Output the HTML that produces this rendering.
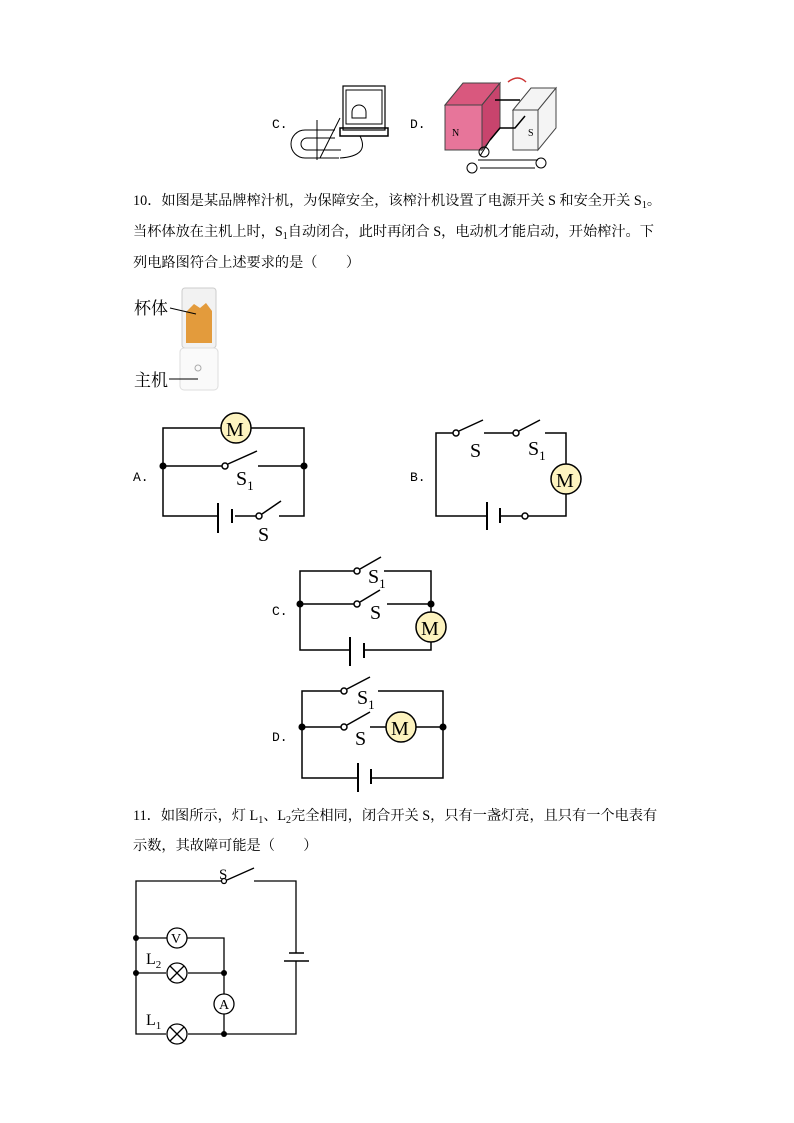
<!DOCTYPE html>
<html><head><meta charset="utf-8"><style>
body{margin:0;background:#fff}
svg{display:block}
.t{font-family:"Liberation Serif","Noto Serif CJK SC",serif;font-size:14.2px;fill:#000}
.o{font-family:"Liberation Mono",monospace;font-size:13px;fill:#000}
</style></head><body>
<svg width="794" height="1123" viewBox="0 0 794 1123" xmlns="http://www.w3.org/2000/svg">
<g stroke="#000" fill="none" stroke-width="1.5">
<text class="o" x="272" y="128" stroke="none" fill="#000">C.</text>
<rect x="343" y="86" width="42" height="44" stroke-width="1.2"/>
<rect x="346" y="90" width="36" height="34" stroke-width="1"/>
<rect x="340" y="128" width="48" height="8"/>
<path d="M352 112a7 7 0 0 1 14 0v6h-14z" stroke-width="1"/>
<path d="M335 130h-30a14 14 0 0 0 0 28h34M335 138h-28a6 6 0 0 0 0 12h34" stroke-width="1"/>
<path d="M317 120v40M340 118l-20 40M360 136q10 20 -20 22" stroke-width="1"/>
<text class="o" x="410" y="128" stroke="none" fill="#000">D.</text>
<path d="M445 105l18-22h37l-18 22z" fill="#d9587e" stroke="#444" stroke-width="1"/>
<rect x="445" y="105" width="37" height="45" fill="#e7759a" stroke="#444" stroke-width="1"/>
<path d="M482 105l18-22v45l-18 22z" fill="#c8446d" stroke="#444" stroke-width="1"/>
<text x="452" y="136" font-size="10" stroke="none" fill="#000" font-family="Liberation Serif">N</text>
<path d="M513 110l18-22h25l-18 22z M513 110h25v40h-25z M538 110l18-22v40l-18 22z" fill="#f4f4f4" stroke="#444" stroke-width="1"/>
<text x="528" y="136" font-size="10" stroke="none" fill="#000" font-family="Liberation Serif">S</text>
<path d="M495 100h25M490 140l10-12h15l10-12" stroke-width="1.5"/>
<path d="M490 140l-10 16M478 160h60M480 168h55" stroke-width="1"/>
<circle cx="484" cy="152" r="5" stroke-width="1"/><circle cx="472" cy="168" r="5" stroke-width="1"/>
<circle cx="541" cy="163" r="5" stroke-width="1"/>
<path d="M508 82q10-8 18 0" stroke="#c33" stroke-width="1.5"/>
</g>
<text class="t" x="133" y="205">10．如图是某品牌榨汁机，为保障安全，该榨汁机设置了电源开关 S 和安全开关 S<tspan font-size="10" dy="3">1</tspan><tspan dy="-3">。</tspan></text>
<text class="t" x="133" y="236">当杯体放在主机上时，S<tspan font-size="10" dy="3">1</tspan><tspan dy="-3">自动闭合，此时再闭合 S，电动机才能启动，开始榨汁。下</tspan></text>
<text class="t" x="133" y="267">列电路图符合上述要求的是（　　）</text>
<rect x="182" y="288" width="34" height="60" rx="3" fill="#f2f2f2" stroke="#ccc"/>
<path d="M186 312l8-8 6 4 6-5 6 8v32h-26z" fill="#e39b3c"/>
<rect x="180" y="348" width="38" height="42" rx="4" fill="#fafafa" stroke="#ddd"/>
<circle cx="198" cy="368" r="3" fill="none" stroke="#aaa"/>
<text class="t" x="134" y="314" style="font-size:17px">杯体</text>
<line x1="170" y1="308" x2="196" y2="314" stroke="#000"/>
<text class="t" x="134" y="386" style="font-size:17px">主机</text>
<line x1="169" y1="379" x2="198" y2="379" stroke="#000"/>
<g stroke="#000" stroke-width="1.5" fill="none">
<path d="M221 428H163V516H218M251 428H304V516H279M163 466H222M258 466H304M235 516H256"/>
<line x1="218" y1="503" x2="218" y2="533" stroke-width="2"/>
<line x1="232" y1="509" x2="232" y2="523" stroke-width="2"/>
<line x1="228" y1="464" x2="257" y2="451"/><line x1="262" y1="514" x2="281" y2="501"/>
<circle cx="236" cy="428" r="15" fill="#fdf3bf"/>
<circle cx="225" cy="466" r="3" fill="#fff"/><circle cx="259" cy="516" r="3" fill="#fff"/>
<circle cx="163" cy="466" r="2.8" fill="#000"/><circle cx="304" cy="466" r="2.8" fill="#000"/>
<path d="M453 433H436V516H487M484 433H513M545 433H566V464M566 494V516H528M500 516H522"/>
<line x1="487" y1="502" x2="487" y2="530" stroke-width="2"/>
<line x1="500" y1="508" x2="500" y2="523" stroke-width="2"/>
<line x1="459" y1="431" x2="483" y2="420"/><line x1="519" y1="431" x2="540" y2="420"/>
<circle cx="456" cy="433" r="3" fill="#fff"/><circle cx="516" cy="433" r="3" fill="#fff"/>
<circle cx="525" cy="516" r="3" fill="#fff"/>
<circle cx="566" cy="479" r="15" fill="#fdf3bf"/>
<path d="M354 571H300V650H350M384 571H431V612M431 642V650H364M300 604H354M387 604H431"/>
<line x1="350" y1="637" x2="350" y2="666" stroke-width="2"/>
<line x1="364" y1="643" x2="364" y2="658" stroke-width="2"/>
<line x1="360" y1="569" x2="381" y2="557"/><line x1="360" y1="602" x2="380" y2="590"/>
<circle cx="357" cy="571" r="3" fill="#fff"/><circle cx="357" cy="604" r="3" fill="#fff"/>
<circle cx="431" cy="627" r="15" fill="#fdf3bf"/>
<circle cx="300" cy="604" r="2.8" fill="#000"/><circle cx="431" cy="604" r="2.8" fill="#000"/>
<path d="M341 691H302V778H358M378 691H443V778H371M302 727H341M370 727H386M416 727H443"/>
<line x1="358" y1="763" x2="358" y2="792" stroke-width="2"/>
<line x1="371" y1="769" x2="371" y2="784" stroke-width="2"/>
<line x1="347" y1="689" x2="370" y2="677"/><line x1="347" y1="725" x2="370" y2="712"/>
<circle cx="344" cy="691" r="3" fill="#fff"/><circle cx="344" cy="727" r="3" fill="#fff"/>
<circle cx="401" cy="727" r="15" fill="#fdf3bf"/>
<circle cx="302" cy="727" r="2.8" fill="#000"/><circle cx="443" cy="727" r="2.8" fill="#000"/>
</g>
<g fill="#000" font-family="Liberation Serif" font-size="20">
<text x="226" y="436">M</text>
<text x="236" y="485">S<tspan font-size="13" dy="5">1</tspan></text>
<text x="258" y="541">S</text>
<text x="470" y="457">S</text>
<text x="528" y="455">S<tspan font-size="13" dy="5">1</tspan></text>
<text x="556" y="487">M</text>
<text x="368" y="583">S<tspan font-size="13" dy="5">1</tspan></text>
<text x="370" y="619">S</text>
<text x="421" y="635">M</text>
<text x="357" y="704">S<tspan font-size="13" dy="5">1</tspan></text>
<text x="355" y="745">S</text>
<text x="391" y="735">M</text>
</g>
<g class="o"><text x="133" y="481">A.</text><text x="410" y="481">B.</text><text x="272" y="615">C.</text><text x="272" y="741">D.</text></g>
<text class="t" x="133" y="820">11．如图所示，灯 L<tspan font-size="10" dy="3">1</tspan><tspan dy="-3">、L</tspan><tspan font-size="10" dy="3">2</tspan><tspan dy="-3">完全相同，闭合开关 S，只有一盏灯亮，且只有一个电表有</tspan></text>
<text class="t" x="133" y="850">示数，其故障可能是（　　）</text>
<g stroke="#000" stroke-width="1.3" fill="none">
<path d="M221 881H136V1034H166M188 1034H296V961M296 953V881H254M136 938H167M187 938H224V994M224 1014V1034M136 973H166M188 973H224"/>
<line x1="227" y1="880" x2="254" y2="868"/>
<circle cx="224" cy="881" r="2.5" fill="#fff"/>
<line x1="289" y1="953" x2="304" y2="953" stroke-width="1.5"/>
<line x1="284" y1="961" x2="309" y2="961" stroke-width="1.5"/>
<circle cx="177" cy="938" r="10" fill="#fff"/>
<circle cx="224" cy="1004" r="10" fill="#fff"/>
<circle cx="177" cy="973" r="10" fill="#fff"/><path d="M170 966l14 14M184 966l-14 14"/>
<circle cx="177" cy="1034" r="10" fill="#fff"/><path d="M170 1027l14 14M184 1027l-14 14"/>
<g fill="#000" stroke="none"><circle cx="136" cy="938" r="3"/><circle cx="136" cy="973" r="3"/><circle cx="224" cy="973" r="3"/><circle cx="224" cy="1034" r="3"/></g>
</g>
<g font-family="Liberation Serif" fill="#000">
<text x="219" y="879" font-size="15">S</text>
<text x="171" y="943" font-size="14">V</text>
<text x="219" y="1009" font-size="14">A</text>
<text x="146" y="964" font-size="16">L<tspan font-size="11" dy="4">2</tspan></text>
<text x="146" y="1025" font-size="16">L<tspan font-size="11" dy="4">1</tspan></text>
</g>
</svg>
</body></html>
